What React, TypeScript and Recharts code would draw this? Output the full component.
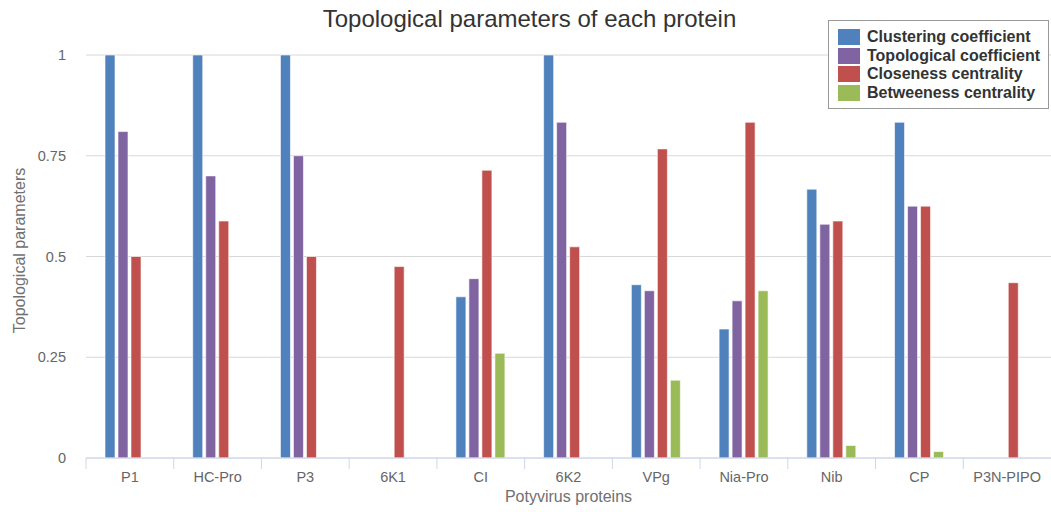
import React from 'react';
import { BarChart, Bar, XAxis, YAxis, CartesianGrid, Legend } from 'recharts';

const categories = ['P1', 'HC-Pro', 'P3', '6K1', 'CI', '6K2', 'VPg', 'Nia-Pro', 'Nib', 'CP', 'P3N-PIPO'];
const clustering = [1, 1, 1, 0, 0.4, 1, 0.43, 0.32, 0.667, 0.833, 0];
const topological = [0.81, 0.7, 0.75, 0, 0.445, 0.833, 0.415, 0.39, 0.58, 0.625, 0];
const closeness = [0.5, 0.588, 0.5, 0.475, 0.714, 0.524, 0.767, 0.833, 0.588, 0.625, 0.435];
const betweenness = [0, 0, 0, 0, 0.26, 0, 0.193, 0.415, 0.031, 0.016, 0];
const yTicks = [0, 0.25, 0.5, 0.75, 1];

const seriesNames = ['Clustering coefficient', 'Topological coefficient', 'Closeness centrality', 'Betweeness centrality'];
const seriesKeys = ['clustering', 'topological', 'closeness', 'betweenness'];
const seriesColors = ['#4f81bd', '#8064a2', '#c0504d', '#9bbb59'];

const data = categories.map((name, i) => ({
  name,
  clustering: clustering[i],
  topological: topological[i],
  closeness: closeness[i],
  betweenness: betweenness[i],
}));

const FONT = '"Liberation Sans", Arial, Helvetica, sans-serif';

const XTick = (props: any) => {
  const { x, y, payload } = props;
  const half = payload && typeof payload.offset === 'number' ? payload.offset : 0;
  return (
    <g>
      {half > 0 && <line x1={x - half} y1={y} x2={x - half} y2={y + 11} stroke="#ccd6eb" strokeWidth={1} />}
      <text x={x} y={y + 14} dy="0.71em" textAnchor="middle" fill="#666" fontSize={14.5} fontFamily={FONT}>
        {payload.value}
      </text>
    </g>
  );
};

const YTick = (props: any) => {
  const { x, y, payload } = props;
  return (
    <text x={x} y={y} dy="0.35em" textAnchor="end" fill="#666" fontSize={14.5} fontFamily={FONT}>
      {payload.value}
    </text>
  );
};

const LegendBox = () => (
  <div
    style={{
      border: '1px solid #999',
      background: '#fff',
      width: 219,
      height: 87,
      boxSizing: 'content-box',
      padding: 0,
      fontFamily: FONT,
    }}
  >
    {seriesNames.map((n, i) => (
      <div key={n} style={{ position: 'absolute', left: 10, top: 9 + i * 18.7, display: 'flex', alignItems: 'center', height: 16 }}>
        <div style={{ width: 22, height: 16, background: seriesColors[i] }} />
        <span style={{ marginLeft: 7, fontWeight: 'bold', fontSize: 16, color: '#333', lineHeight: '16px', whiteSpace: 'nowrap' }}>{n}</span>
      </div>
    ))}
  </div>
);

export default function App() {
  return (
    <div style={{ position: 'absolute', left: 0, top: 0, width: 1051, height: 512, background: '#fff' }}>
      <div
        style={{
          position: 'absolute',
          left: 0,
          width: 1059,
          top: 5,
          textAlign: 'center',
          fontFamily: FONT,
          fontSize: 24,
          lineHeight: '28px',
          color: '#333',
          zIndex: 2,
        }}
      >
        Topological parameters of each protein
      </div>
      <BarChart
        width={1051}
        height={512}
        data={data}
        margin={{ top: 55, right: 0, bottom: 24, left: 0 }}
        barSize={10}
        barGap={3}
      >
        <CartesianGrid vertical={false} stroke="#d8d8d8" strokeWidth={1} />
        <XAxis
          dataKey="name"
          height={30}
          tickLine={false}
          tickSize={0}
          tickMargin={0}
          axisLine={{ stroke: '#ccd6eb' }}
          tick={<XTick />}
          interval={0}
          label={{
            value: 'Potyvirus proteins',
            position: 'bottom',
            offset: 3,
            fill: '#707070',
            fontSize: 16,
            fontFamily: FONT,
          }}
        />
        <YAxis
          width={86}
          domain={[0, 1]}
          ticks={yTicks}
          axisLine={false}
          tickLine={false}
          tickSize={0}
          tickMargin={20}
          tick={<YTick />}
          label={{
            content: (p: any) => {
              const vb = p.viewBox || { y: 55, height: 403 };
              const cy = vb.y + vb.height / 2 - 6;
              return (
                <text
                  x={19}
                  y={cy}
                  transform={`rotate(-90 19 ${cy})`}
                  textAnchor="middle"
                  dy="0.35em"
                  fill="#707070"
                  fontSize={16}
                  fontFamily={FONT}
                >
                  Topological parameters
                </text>
              );
            },
          }}
        />
        <Legend
          layout="vertical"
          align="center"
          verticalAlign="middle"
          content={() => <LegendBox />}
          wrapperStyle={{ left: 828, top: 20, width: 221, height: 89, position: 'absolute' }}
        />
        {seriesKeys.map((k, i) => (
          <Bar
            key={k}
            dataKey={k}
            name={seriesNames[i]}
            fill={seriesColors[i]}
            stroke="#ffffff"
            strokeOpacity={0.6}
            strokeWidth={1}
            isAnimationActive={false}
          />
        ))}
      </BarChart>
    </div>
  );
}
